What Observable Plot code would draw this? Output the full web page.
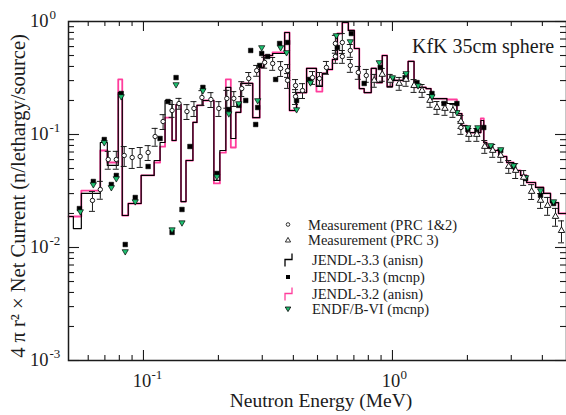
<!DOCTYPE html>
<html>
<head>
<meta charset="utf-8">
<script src="https://cdn.jsdelivr.net/npm/d3@7"></script>
<script src="https://cdn.jsdelivr.net/npm/@observablehq/plot@0.6"></script>
<style>
  html, body { margin: 0; padding: 0; background: #fff; overflow: hidden; }
  #chart { position: relative; width: 566px; height: 415px; }
  #chart svg { font-family: "Liberation Serif", "Times New Roman", serif; }
</style>
</head>
<body>
<div id="chart"></div>
<script>
// Group boundaries (MeV) of the anisn calculations
const binEdges = [0.05, 0.0523, 0.0563, 0.0671, 0.0716, 0.0792, 0.0822, 0.0869, 0.0979, 0.1104,
  0.1166, 0.1221, 0.1303, 0.1352, 0.1415, 0.1482, 0.158, 0.164, 0.1733, 0.1918,
  0.2027, 0.2142, 0.2243, 0.2349, 0.246, 0.2747, 0.293, 0.304, 0.330, 0.369,
  0.386, 0.412, 0.452, 0.495, 0.523, 0.548, 0.574, 0.601, 0.629, 0.665,
  0.703, 0.736, 0.770, 0.822, 0.861, 0.910, 0.952, 1.0, 1.054, 1.156,
  1.221, 1.279, 1.364, 1.428, 1.509, 1.655, 1.815, 1.900, 1.990, 2.182,
  2.264, 2.327, 2.392, 2.505, 2.672, 2.876, 3.068, 3.272, 3.459, 3.756,
  4.045, 4.313, 4.644, 5.0];

// JENDL-3.3 (anisn), one value per group
const jendl33Anisn = [0.0188, 0.0147, 0.0301, 0.085, 0.0532, 0.235, 0.0192, 0.0245, 0.0434, 0.0589,
  0.085, 0.200, 0.0885, 0.184, 0.0255, 0.0589, 0.128, 0.181, 0.200, 0.0392,
  0.0722, 0.261, 0.0922, 0.157, 0.283, 0.141, 0.392, 0.500, 0.521, 0.799,
  0.163, 0.235, 0.384, 0.266, 0.347, 0.376, 0.461, 0.783, 0.980, 0.833,
  0.577, 0.255, 0.235, 0.384, 0.288, 0.500, 0.266, 0.301, 0.301, 0.443,
  0.261, 0.261, 0.255, 0.208, 0.208, 0.188, 0.153, 0.120, 0.104, 0.104,
  0.133, 0.085, 0.0767, 0.0722, 0.0639, 0.0565, 0.048, 0.0434, 0.0376, 0.034,
  0.0301, 0.025, 0.020];

// JENDL-3.2 (anisn), one value per group
const jendl32Anisn = [0.0188, 0.0188, 0.0319, 0.0722, 0.0565, 0.307, 0.0192, 0.0245, 0.0434, 0.0565,
  0.078, 0.141, 0.0885, 0.184, 0.0255, 0.0589, 0.128, 0.181, 0.200, 0.0369,
  0.069, 0.307, 0.0767, 0.157, 0.283, 0.141, 0.392, 0.500, 0.532, 0.799,
  0.163, 0.235, 0.384, 0.240, 0.347, 0.376, 0.461, 0.783, 0.980, 0.833,
  0.577, 0.255, 0.235, 0.384, 0.288, 0.500, 0.266, 0.301, 0.301, 0.443,
  0.261, 0.261, 0.255, 0.208, 0.208, 0.204, 0.153, 0.120, 0.104, 0.104,
  0.139, 0.085, 0.0767, 0.0722, 0.0639, 0.0565, 0.048, 0.0434, 0.0376, 0.034,
  0.0301, 0.025, 0.020];

// Measurement (PRC 1&2): energy, value, relative error
const prc12E = [0.0624, 0.0671, 0.0722, 0.0778, 0.0837, 0.0901, 0.0970, 0.1044, 0.1114, 0.1199,
  0.1303, 0.1389, 0.1495, 0.1595, 0.1717, 0.1866, 0.2008, 0.2162, 0.2306, 0.2482,
  0.2647, 0.2849, 0.3068, 0.3303, 0.3555, 0.3791, 0.3791, 0.4082, 0.4082, 0.4353,
  0.4774, 0.5090, 0.5430, 0.5899, 0.5899, 0.629, 0.629, 0.6773, 0.6773, 0.7291,
  0.785, 1.883];
const prc12V = [0.0261, 0.0326, 0.0601, 0.0601, 0.0652, 0.0626, 0.0639, 0.0693, 0.0960, 0.1303,
  0.163, 0.188, 0.1598, 0.1699, 0.2125, 0.204, 0.1699, 0.2083, 0.2083, 0.255,
  0.313, 0.368, 0.434, 0.425, 0.384, 0.301, 0.368, 0.2169, 0.271, 0.245,
  0.319, 0.313, 0.392, 0.639, 0.490, 0.652, 0.490, 0.554, 0.408, 0.354,
  0.333, 0.1153];
const prc12Err = [0.20, 0.18, 0.18, 0.18, 0.20, 0.20, 0.20, 0.15, 0.18, 0.15,
  0.13, 0.11, 0.15, 0.15, 0.15, 0.15, 0.15, 0.18, 0.15, 0.15,
  0.13, 0.11, 0.11, 0.13, 0.15, 0.15, 0.13, 0.15, 0.13, 0.15,
  0.13, 0.13, 0.13, 0.18, 0.13, 0.20, 0.13, 0.13, 0.13, 0.13,
  0.13, 0.13];

// Measurement (PRC 3)
const prc3E = [0.845, 0.910, 0.979, 1.064, 1.134, 1.221, 1.315, 1.415, 1.509, 1.625,
  1.749, 1.883, 2.027, 2.182, 2.349, 2.528, 2.722, 2.930, 3.125, 3.364,
  3.622, 3.933, 4.197, 4.517, 4.774];
const prc3V = [0.301, 0.340, 0.301, 0.283, 0.307, 0.271, 0.245, 0.200, 0.1733, 0.1699,
  0.163, 0.1303, 0.100, 0.100, 0.0783, 0.0722, 0.0652, 0.0521, 0.048, 0.0417,
  0.0313, 0.0261, 0.0235, 0.0188, 0.0141];
const prc3Err = [0.13, 0.13, 0.13, 0.13, 0.13, 0.13, 0.13, 0.13, 0.13, 0.13,
  0.13, 0.13, 0.13, 0.13, 0.13, 0.13, 0.13, 0.13, 0.15, 0.15,
  0.15, 0.15, 0.18, 0.18, 0.22];

// JENDL-3.3 (mcnp)
const mcnp33E = [0.0553, 0.0629, 0.0696, 0.0743, 0.0778, 0.0814, 0.0845, 0.0927, 0.1044, 0.1166,
  0.1255, 0.1303, 0.1352, 0.1428, 0.1537, 0.1733, 0.1972, 0.2202, 0.2414, 0.2575,
  0.2696, 0.2823, 0.2876, 0.2930, 0.2985, 0.3154, 0.3395, 0.3522, 0.3791, 0.4120,
  0.4644, 0.601, 0.6836, 0.770, 0.893, 1.0, 1.124, 1.255, 1.441, 1.610,
  1.815, 2.008, 2.182, 2.327, 2.482, 2.722, 3.068, 3.426, 3.933, 4.436];
const mcnp33V = [0.0221, 0.0384, 0.0903, 0.0361, 0.0434, 0.2306, 0.01063, 0.0277, 0.0521, 0.0922,
  0.1959, 0.0136, 0.319, 0.0217, 0.0783, 0.261, 0.0452, 0.1664, 0.181, 0.200,
  0.554, 0.1226, 0.1733, 0.408, 0.521, 0.490, 0.307, 0.639, 0.652, 0.200,
  0.307, 0.589, 0.783, 0.283, 0.392, 0.313, 0.319, 0.288, 0.2306, 0.188,
  0.188, 0.1107, 0.1085, 0.1153, 0.0783, 0.0722, 0.0521, 0.0408, 0.0289, 0.0245];

// ENDF/B-VI (mcnp)
const endfE = [0.0558, 0.0629, 0.0696, 0.0743, 0.0778, 0.0814, 0.0845, 0.0927, 0.1303, 0.1352,
  0.1428, 0.1733, 0.1972, 0.2202, 0.2414, 0.2876, 0.2985, 0.3555, 0.3756, 0.4120,
  0.4687, 0.5954, 0.6773, 0.885, 1.0, 1.134, 1.267, 1.441, 1.815, 2.008,
  2.202, 2.482, 2.722, 3.068, 3.426, 3.933, 4.436];
const endfV = [0.0208, 0.0361, 0.085, 0.034, 0.0408, 0.2169, 0.00922, 0.0255, 0.0144, 0.277,
  0.0166, 0.245, 0.0425, 0.153, 0.188, 0.200, 0.589, 0.589, 0.532, 0.1664,
  0.288, 0.752, 0.665, 0.434, 0.319, 0.347, 0.271, 0.2169, 0.157, 0.1153,
  0.1153, 0.0799, 0.0737, 0.0532, 0.0417, 0.0319, 0.0255];

// Axis ticks
const xMajor = [0.1, 1];
const xMinor = [0.06, 0.07, 0.08, 0.09, 0.2, 0.3, 0.4, 0.5, 0.6, 0.7, 0.8, 0.9, 2, 3, 4];
const yMajor = [1e-3, 1e-2, 1e-1, 1];
const yMinor = [1e-3, 1e-2, 1e-1].flatMap(d => [2, 3, 4, 5, 6, 7, 8, 9].map(m => m * d));
const xLabelExp = ["-1", "0"];
const yLabelExp = ["-3", "-2", "-1", "0"];

// ---- layout ----
const W = 566, H = 415;
const mL = 68, mR = 0, mT = 21, mB = 55;
const xDomain = [0.05, 5], yDomain = [1e-3, 1];
const pxPerDecX = (W - mL - mR) / Math.log10(xDomain[1] / xDomain[0]);
const pxPerDecY = (H - mT - mB) / Math.log10(yDomain[1] / yDomain[0]);
const kx = px => Math.pow(10, px / pxPerDecX);   // multiplicative offset for px pixels along x
const ky = px => Math.pow(10, px / pxPerDecY);   // same along y

const ink = "#1b1b1b";
const pink = "#ff3d9c";
const green = "#1fc272";
const serif = "Liberation Serif, Times New Roman, serif";

const stepPts = vals => vals.map((v, i) => ({E: binEdges[i], v}))
  .concat([{E: binEdges[vals.length], v: vals[vals.length - 1]}]);

const prc12 = prc12E.map((E, i) => ({E, v: prc12V[i], err: prc12Err[i]}));
const prc3 = prc3E.map((E, i) => ({E, v: prc3V[i], err: prc3Err[i]}));
const mcnp33 = mcnp33E.map((E, i) => ({E, v: mcnp33V[i]}));
const endf = endfE.map((E, i) => ({E, v: endfV[i]}));
const meas = prc12.concat(prc3);

const capW = 3;

const plot = Plot.plot({
  width: W, height: H,
  marginLeft: mL, marginRight: mR, marginTop: mT, marginBottom: mB,
  style: {fontFamily: serif, background: "#fff"},
  x: {type: "log", domain: xDomain, axis: null},
  y: {type: "log", domain: yDomain, axis: null},
  marks: [
    // inward ticks on the four sides of the frame
    Plot.ruleX(xMinor, {x: d => d, y1: yDomain[0], y2: yDomain[0] * ky(5), stroke: ink, strokeWidth: 1.1}),
    Plot.ruleX(xMajor, {x: d => d, y1: yDomain[0], y2: yDomain[0] * ky(10), stroke: ink, strokeWidth: 1.1}),
    Plot.ruleX(xMinor, {x: d => d, y1: yDomain[1], y2: yDomain[1] / ky(5), stroke: ink, strokeWidth: 1.1}),
    Plot.ruleX(xMajor, {x: d => d, y1: yDomain[1], y2: yDomain[1] / ky(10), stroke: ink, strokeWidth: 1.1}),
    Plot.ruleY(yMinor, {y: d => d, x1: xDomain[0], x2: xDomain[0] * kx(6), stroke: ink, strokeWidth: 1.1}),
    Plot.ruleY(yMajor, {y: d => d, x1: xDomain[0], x2: xDomain[0] * kx(11), stroke: ink, strokeWidth: 1.1}),
    Plot.ruleY(yMinor, {y: d => d, x1: xDomain[1], x2: xDomain[1] / kx(6), stroke: ink, strokeWidth: 1.1}),
    Plot.ruleY(yMajor, {y: d => d, x1: xDomain[1], x2: xDomain[1] / kx(11), stroke: ink, strokeWidth: 1.1}),

    // anisn step histograms
    Plot.line(stepPts(jendl32Anisn), {x: "E", y: "v", curve: "step-after", stroke: pink, strokeWidth: 1.8}),
    Plot.line(stepPts(jendl33Anisn), {x: "E", y: "v", curve: "step-after", stroke: "#000", strokeWidth: 1.2}),

    // measurement error bars with caps
    Plot.ruleX(meas, {x: "E", y1: d => d.v * (1 - d.err), y2: d => d.v * (1 + d.err), stroke: ink, strokeWidth: 1}),
    Plot.ruleY(meas, {y: d => d.v * (1 + d.err), x1: d => d.E / kx(capW), x2: d => d.E * kx(capW), stroke: ink, strokeWidth: 1}),
    Plot.ruleY(meas, {y: d => d.v * (1 - d.err), x1: d => d.E / kx(capW), x2: d => d.E * kx(capW), stroke: ink, strokeWidth: 1}),

    // mcnp results
    Plot.dot(mcnp33, {x: "E", y: "v", symbol: "square", r: 2.6, fill: "#000", stroke: "#000", strokeWidth: 0.5}),
    Plot.dot(endf, {x: "E", y: "v", symbol: "triangle", rotate: 180, r: 2.3, fill: green, stroke: "#000", strokeWidth: 0.7}),

    // measurements
    Plot.dot(prc12, {x: "E", y: "v", r: 2.2, fill: "#fff", stroke: ink, strokeWidth: 1}),
    Plot.dot(prc3, {x: "E", y: "v", symbol: "triangle", r: 2.4, fill: "#fff", stroke: ink, strokeWidth: 1}),

    Plot.frame({stroke: ink, strokeWidth: 1.5}),

    // tick labels: "10" with a raised exponent
    Plot.text(yMajor, {x: xDomain[0], y: d => d, text: () => "10", textAnchor: "end", dx: -20, dy: 0, fontSize: 18.5, fill: ink}),
    Plot.text(yMajor, {x: xDomain[0], y: d => d, text: (d, i) => yLabelExp[i], textAnchor: "start", dx: -19, dy: -7, fontSize: 13, fill: ink}),
    Plot.text(xMajor, {x: d => d, y: yDomain[0], text: () => "10", textAnchor: "middle", dx: -1.5, dy: 20.5, fontSize: 18.5, fill: ink}),
    Plot.text(xMajor, {x: d => d, y: yDomain[0], text: (d, i) => xLabelExp[i], textAnchor: "start", dx: 8, dy: 14, fontSize: 13, fill: ink})
  ]
});

document.getElementById("chart").appendChild(plot);

// titles, axis labels and legend
const svg = d3.select(plot);
const ann = svg.append("g").attr("font-family", serif).attr("fill", ink).attr("text-anchor", "start");

ann.append("text").attr("x", 321).attr("y", 407).attr("text-anchor", "middle")
  .attr("font-size", 19.5).text("Neutron Energy (MeV)");
ann.append("text").attr("transform", "translate(25,196) rotate(-90)").attr("text-anchor", "middle")
  .attr("font-size", 20.5).text("4 \u03c0 r\u00b2 \u00d7 Net Current (n/lethargy/source)");
ann.append("text").attr("x", 412).attr("y", 52.5).attr("text-anchor", "start")
  .attr("font-size", 20).text("KfK 35cm sphere");

const leg = ann.append("g").attr("font-size", 14.5).attr("text-anchor", "start");
const legendRows = [
  {label: "Measurement (PRC 1&2)", y: 224.5, tx: 308, kind: "circle"},
  {label: "Measurement (PRC 3)", y: 240, tx: 308, kind: "triangle"},
  {label: "JENDL-3.3 (anisn)", y: 259.5, tx: 312, kind: "step", color: "#000"},
  {label: "JENDL-3.3 (mcnp)", y: 277, tx: 312, kind: "square"},
  {label: "JENDL-3.2 (anisn)", y: 293.5, tx: 312, kind: "step", color: pink},
  {label: "ENDF/B-VI (mcnp)", y: 309, tx: 312, kind: "down"}
];
for (const row of legendRows) {
  const cx = 288, cy = row.y;
  if (row.kind === "circle") {
    leg.append("circle").attr("cx", cx).attr("cy", cy).attr("r", 1.8).attr("fill", "#fff").attr("stroke", ink).attr("stroke-width", 0.9);
  } else if (row.kind === "triangle") {
    leg.append("path").attr("d", `M${cx},${cy - 2.6}L${cx + 2.6},${cy + 2}L${cx - 2.6},${cy + 2}Z`).attr("fill", "#fff").attr("stroke", ink).attr("stroke-width", 0.9);
  } else if (row.kind === "square") {
    leg.append("rect").attr("x", cx - 2).attr("y", cy - 2).attr("width", 4).attr("height", 4).attr("fill", "#000");
  } else if (row.kind === "down") {
    leg.append("path").attr("d", `M${cx - 2.8},${cy - 2}L${cx + 2.8},${cy - 2}L${cx},${cy + 2.6}Z`).attr("fill", green).attr("stroke", "#000").attr("stroke-width", 0.8);
  } else {
    leg.append("path").attr("d", `M${cx - 3},${cy + 7}V${cy}H${cx + 4}V${cy - 6}`).attr("fill", "none").attr("stroke", row.color).attr("stroke-width", 1.3);
  }
  leg.append("text").attr("x", row.tx).attr("y", cy + 5).text(row.label);
}
</script>
</body>
</html>
